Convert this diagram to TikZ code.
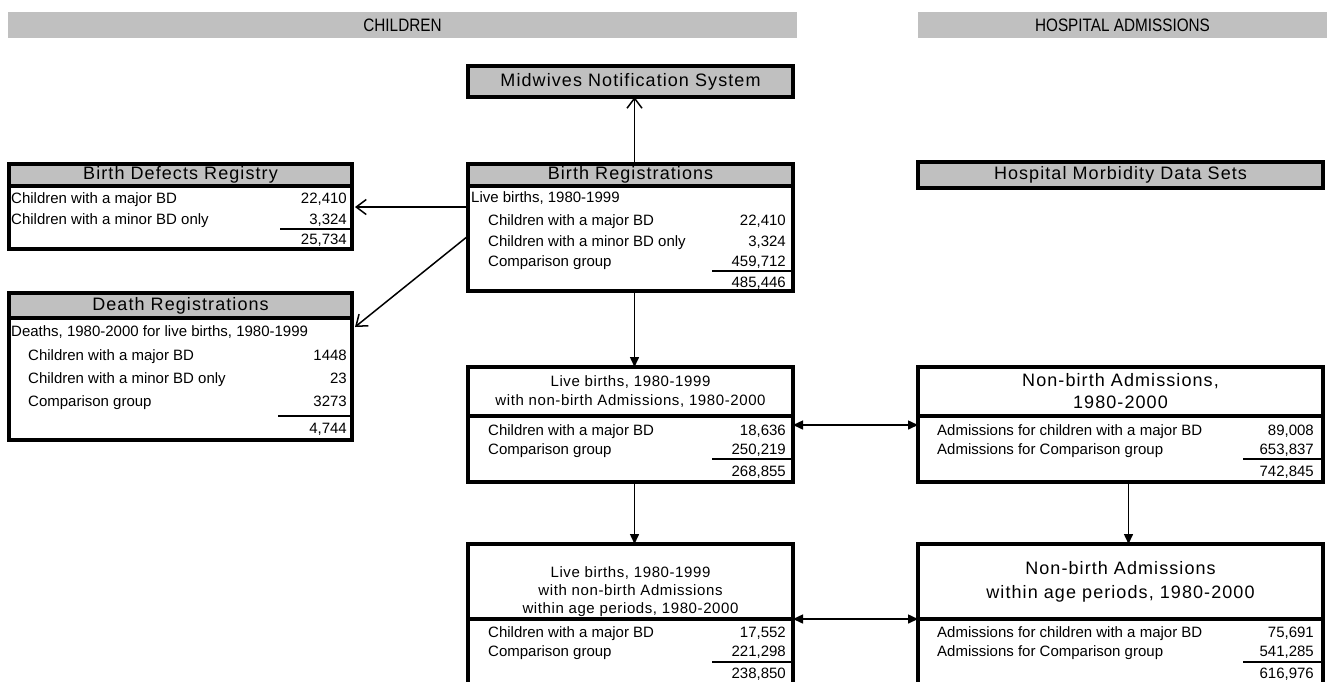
\documentclass[tikz,border=0pt]{standalone}
\usepackage{fontspec}
\setmainfont{Liberation Sans}
\newfontfamily\hdrfamily[LetterSpace=6]{Liberation Sans}
\newfontfamily\midfamily[LetterSpace=4]{Liberation Sans}
\newfontfamily\banfamily[FakeStretch=0.85]{Liberation Sans}
\usetikzlibrary{arrows.meta}
\definecolor{cellgray}{HTML}{C0C0C0}
\newcommand{\rowfont}{\fontsize{15}{18}\selectfont}

\tikzset{
  banner/.style={fill=cellgray, anchor=north west, inner sep=0pt, outer sep=0pt,
    font=\banfamily\fontsize{18}{22}\selectfont},
  bodybox/.style={draw, line width=3.5pt, inner sep=0pt, outer sep=0pt, anchor=north west},
  hdrbox/.style={bodybox, fill=cellgray, font=\hdrfamily\fontsize{18}{22}\selectfont},
  capbox/.style={bodybox, align=center, font=\midfamily\fontsize{15}{19}\selectfont},
  bigcap/.style={bodybox, align=center, font=\hdrfamily\fontsize{18}{22}\selectfont},
  lbl/.style={anchor=base west, inner sep=0pt, font=\rowfont},
  num/.style={anchor=base east, inner sep=0pt, font=\rowfont},
  sumline/.style={line width=1.5pt},
  opn/.style={line width=1.5pt, -{Straight Barb[length=10pt,width=15pt]}},
  fil/.style={line width=1.5pt, -{Triangle[length=10pt,width=9pt]}},
  dbl/.style={line width=1.5pt, {Triangle[length=10pt,width=9pt]}-{Triangle[length=10pt,width=9pt]}}
}

\begin{document}
\begin{tikzpicture}[x=1pt, y=-1pt]
  \useasboundingbox (0,0) rectangle (1327,681);
  \clip (0,0) rectangle (1327,681);

  % banners
  \node[banner, minimum width=789pt, minimum height=26pt] (kids) at (8,12) {CHILDREN};
  \node[banner, minimum width=409pt, minimum height=26pt] (hosp) at (918,12) {HOSPITAL ADMISSIONS};

  % sources
  \node[hdrbox, minimum width=325pt, minimum height=31pt] (mns) at (468,66) {Midwives Notification System};
  \node[hdrbox, minimum width=405pt, minimum height=26pt] (hmds) at (918,162) {Hospital Morbidity Data Sets};

  % birth registrations
  \node[hdrbox, minimum width=325pt, minimum height=22pt] (brh) at (468,164) {Birth Registrations};
  \node[bodybox, minimum width=325pt, minimum height=105pt] (brb) at (468,186) {};
  \node[lbl] (br0) at (471,202) {Live births, 1980-1999};
  \node[lbl] (br1) at (488,225) {Children with a major BD};
  \node[num] (br1n) at (786,225) {22,410};
  \node[lbl] (br2) at (488,246) {Children with a minor BD only};
  \node[num] (br2n) at (786,246) {3,324};
  \node[lbl] (br3) at (488,266) {Comparison group};
  \node[num] (br3n) at (786,266) {459,712};
  \draw[sumline] (712,271) -- (793,271);
  \node[num] (brt) at (786,287) {485,446};

  % birth defects registry
  \node[hdrbox, minimum width=343pt, minimum height=22pt] (bdrh) at (9,164) {Birth Defects Registry};
  \node[bodybox, minimum width=343pt, minimum height=63pt] (bdrb) at (9,186) {};
  \node[lbl] (bdr1) at (11,203) {Children with a major BD};
  \node[num] (bdr1n) at (347,203) {22,410};
  \node[lbl] (bdr2) at (11,224) {Children with a minor BD only};
  \node[num] (bdr2n) at (347,224) {3,324};
  \draw[sumline] (280,229) -- (352,229);
  \node[num] (bdrt) at (347,244) {25,734};

  % death registrations
  \node[hdrbox, minimum width=343pt, minimum height=25pt] (drh) at (9,293) {Death Registrations};
  \node[bodybox, minimum width=343pt, minimum height=122pt] (drb) at (9,318) {};
  \node[lbl] (dr0) at (11,336) {Deaths, 1980-2000 for live births, 1980-1999};
  \node[lbl] (dr1) at (28,360) {Children with a major BD};
  \node[num] (dr1n) at (347,360) {1448};
  \node[lbl] (dr2) at (28,383) {Children with a minor BD only};
  \node[num] (dr2n) at (347,383) {23};
  \node[lbl] (dr3) at (28,406) {Comparison group};
  \node[num] (dr3n) at (347,406) {3273};
  \draw[sumline] (278,416) -- (352,416);
  \node[num] (drt) at (347,433) {4,744};

  % live births with admissions
  \node[capbox, minimum width=325pt, minimum height=49pt] (m1h) at (468,367)
    {Live births, 1980-1999\\with non-birth Admissions, 1980-2000};
  \node[bodybox, minimum width=325pt, minimum height=66pt] (m1b) at (468,416) {};
  \node[lbl] (m11) at (488,435) {Children with a major BD};
  \node[num] (m11n) at (786,435) {18,636};
  \node[lbl] (m12) at (488,454) {Comparison group};
  \node[num] (m12n) at (786,454) {250,219};
  \draw[sumline] (712,459) -- (793,459);
  \node[num] (m1t) at (786,476) {268,855};

  % non-birth admissions
  \node[bigcap, minimum width=405pt, minimum height=49pt] (r1h) at (918,367)
    {Non-birth Admissions,\\1980-2000};
  \node[bodybox, minimum width=405pt, minimum height=66pt] (r1b) at (918,416) {};
  \node[lbl] (r11) at (937,435) {Admissions for children with a major BD};
  \node[num] (r11n) at (1314,435) {89,008};
  \node[lbl] (r12) at (937,454) {Admissions for Comparison group};
  \node[num] (r12n) at (1314,454) {653,837};
  \draw[sumline] (1243,459) -- (1323,459);
  \node[num] (r1t) at (1314,476) {742,845};

  % within age periods
  \node[bodybox, minimum width=325pt, minimum height=75pt] (m2h) at (468,544) {};
  \node[align=center, inner sep=0pt, font=\midfamily\fontsize{15}{18}\selectfont] (m2cap) at (630.5,592)
    {Live births, 1980-1999\\with non-birth Admissions\\within age periods, 1980-2000};
  \node[bodybox, minimum width=325pt, minimum height=75pt] (m2b) at (468,619) {};
  \node[lbl] (m21) at (488,637) {Children with a major BD};
  \node[num] (m21n) at (786,637) {17,552};
  \node[lbl] (m22) at (488,656) {Comparison group};
  \node[num] (m22n) at (786,656) {221,298};
  \draw[sumline] (712,662) -- (793,662);
  \node[num] (m2t) at (786,678) {238,850};

  \node[bigcap, minimum width=405pt, minimum height=75pt, font=\hdrfamily\fontsize{18}{24}\selectfont] (r2h) at (918,544)
    {Non-birth Admissions\\within age periods, 1980-2000};
  \node[bodybox, minimum width=405pt, minimum height=75pt] (r2b) at (918,619) {};
  \node[lbl] (r21) at (937,637) {Admissions for children with a major BD};
  \node[num] (r21n) at (1314,637) {75,691};
  \node[lbl] (r22) at (937,656) {Admissions for Comparison group};
  \node[num] (r22n) at (1314,656) {541,285};
  \draw[sumline] (1243,662) -- (1323,662);
  \node[num] (r2t) at (1314,678) {616,976};

  % connectors
  \draw[opn] ([xshift=4pt]brh.north) -- ([xshift=4pt]mns.south);
  \draw[opn] ([yshift=-21pt]brb.north west) -- ([xshift=3pt,yshift=-21pt]bdrb.north east);
  \draw[opn] ([yshift=-50pt]brb.north west) -- ([xshift=3pt,yshift=-9pt]drb.north east);
  \draw[fil] ([xshift=4pt]brb.south) -- ([xshift=4pt]m1h.north);
  \draw[fil] ([xshift=4pt]m1b.south) -- ([xshift=4pt]m2h.north);
  \draw[fil] ([xshift=8pt]r1b.south) -- ([xshift=8pt]r2h.north);
  \draw[dbl] ([yshift=-9pt]m1b.north east) -- ([yshift=-9pt]r1b.north west);
  \draw[dbl] (m2b.north east) -- (r2b.north west);
\end{tikzpicture}
\end{document}
